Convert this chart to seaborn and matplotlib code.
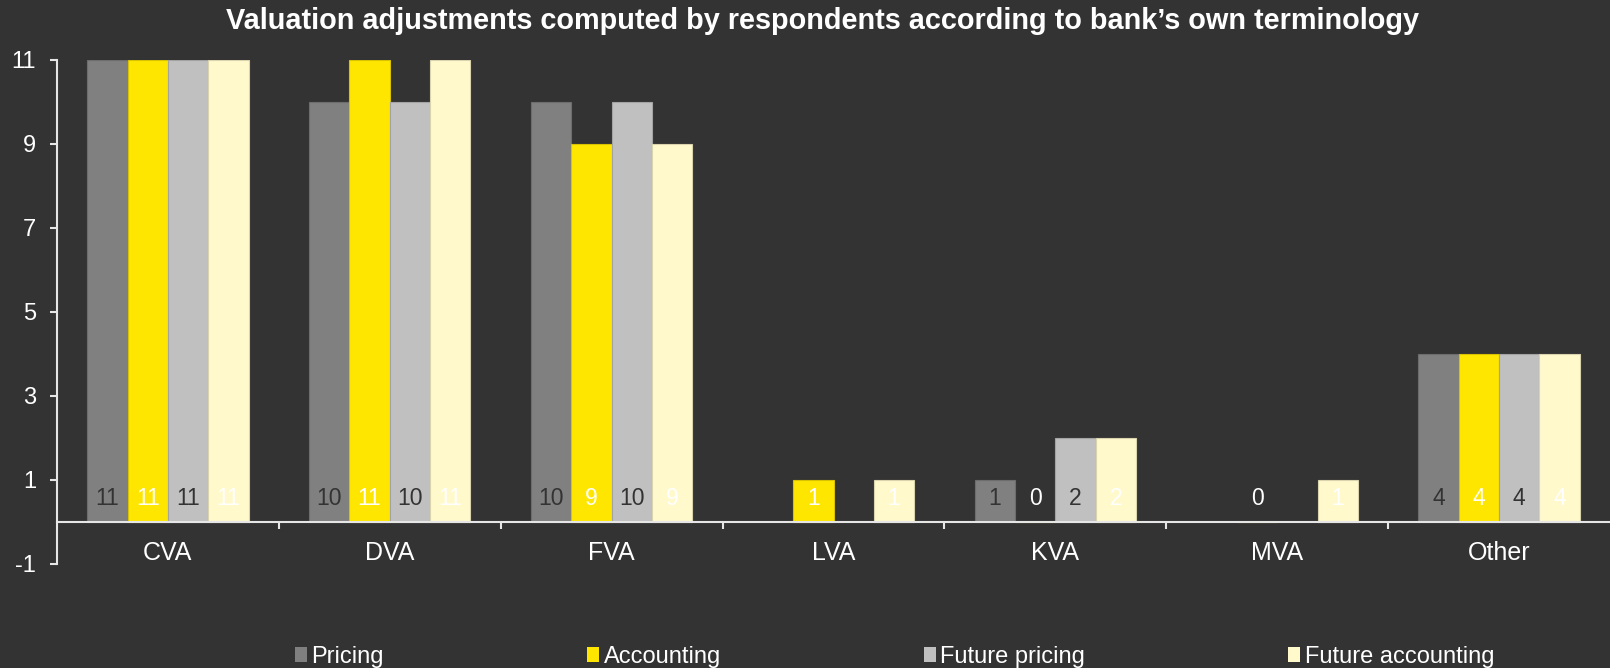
import matplotlib
matplotlib.use("Agg")
import matplotlib.pyplot as plt
import matplotlib.colors as mcolors
from matplotlib.patches import Patch
from matplotlib.ticker import FixedLocator
import seaborn as sns
import pandas as pd

# ---- data ----
categories = ["CVA", "DVA", "FVA", "LVA", "KVA", "MVA", "Other"]
series = ["Pricing", "Accounting", "Future pricing", "Future accounting"]
pricing = [11, 10, 10, None, 1, None, 4]
accounting = [11, 11, 9, 1, 0, 0, 4]
future_pricing = [11, 10, 10, None, 2, None, 4]
future_accounting = [11, 11, 9, 1, 2, 1, 4]
yticks = [-1, 1, 3, 5, 7, 9, 11]
title = "Valuation adjustments computed by respondents according to bank\u2019s own terminology"

# ---- style ----
bg = "#333333"
fg = "#FFFFFF"
axis_col = "#E6E6E6"
colors = ["#808080", "#FFE600", "#C0C0C0", "#FFF9CC"]
label_colors = ["#333333", "#FFFFFF", "#333333", "#FFFFFF"]

sns.set_style("dark")
plt.rcParams["font.family"] = ["Liberation Sans", "DejaVu Sans"]
plt.rcParams["axes.unicode_minus"] = False

rows = []
for s, vals in zip(series, [pricing, accounting, future_pricing, future_accounting]):
    for c, v in zip(categories, vals):
        if v is not None:
            rows.append({"category": c, "series": s, "value": v})
df = pd.DataFrame(rows)

W, H = 1610, 668
fig = plt.figure(figsize=(W / 100, H / 100), dpi=100, facecolor=bg)
ax = fig.add_axes([57 / W, (H - 564) / H, 1 - 57 / W, (564 - 60) / H])
ax.set_facecolor(bg)

sns.barplot(data=df, x="category", y="value", hue="series", order=categories,
            hue_order=series, palette=colors, saturation=1, width=0.727,
            errorbar=None, legend=False, ax=ax)

# edges and value labels
for i, cont in enumerate(ax.containers):
    edge = tuple(max(0, c * 0.85) for c in mcolors.to_rgb(colors[i]))
    for p in cont.patches:
        p.set_edgecolor(edge)
        p.set_linewidth(0.8)
        h = p.get_height()
        ax.text(p.get_x() + p.get_width() / 2, 0.55, f"{int(round(h))}",
                ha="center", va="center", fontsize=16.5, color=label_colors[i])

ax.set_ylim(-1, 11)
ax.set_yticks(yticks)
ax.set_xlim(-0.5, len(categories) - 0.5)
ax.set_xlabel("")
ax.set_ylabel("")
ax.grid(False)

for s in ["top", "right"]:
    ax.spines[s].set_visible(False)
ax.spines["bottom"].set_position(("data", 0))
for s in ["left", "bottom"]:
    ax.spines[s].set_color(axis_col)
    ax.spines[s].set_linewidth(1.5)

ax.tick_params(axis="y", colors=axis_col, labelcolor=fg, length=5, width=1.5,
               direction="out", pad=10, labelsize=17, left=True)
ax.tick_params(axis="x", which="major", length=0, pad=13.5, labelsize=18,
               labelcolor=fg, bottom=True)
ax.xaxis.set_minor_locator(FixedLocator([i + 0.5 for i in range(len(categories) - 1)]))
ax.tick_params(axis="x", which="minor", length=5, width=1.5, color=axis_col,
               direction="out", bottom=True)

fig.text(822 / W, 1 - 21 / H, title, ha="center", va="center", fontsize=20.8,
         fontweight="bold", color=fg)

handles = [Patch(facecolor=c, edgecolor="none") for c in colors]
fig.legend(handles, series, loc="center left", bbox_to_anchor=(295 / W, 11 / H),
           ncol=4, frameon=False, fontsize=17, handlelength=0.5, handleheight=0.6,
           handletextpad=0.2, columnspacing=8.6, borderpad=0, borderaxespad=0,
           labelcolor=fg)

fig.savefig("out.png", dpi=100, facecolor=bg)
